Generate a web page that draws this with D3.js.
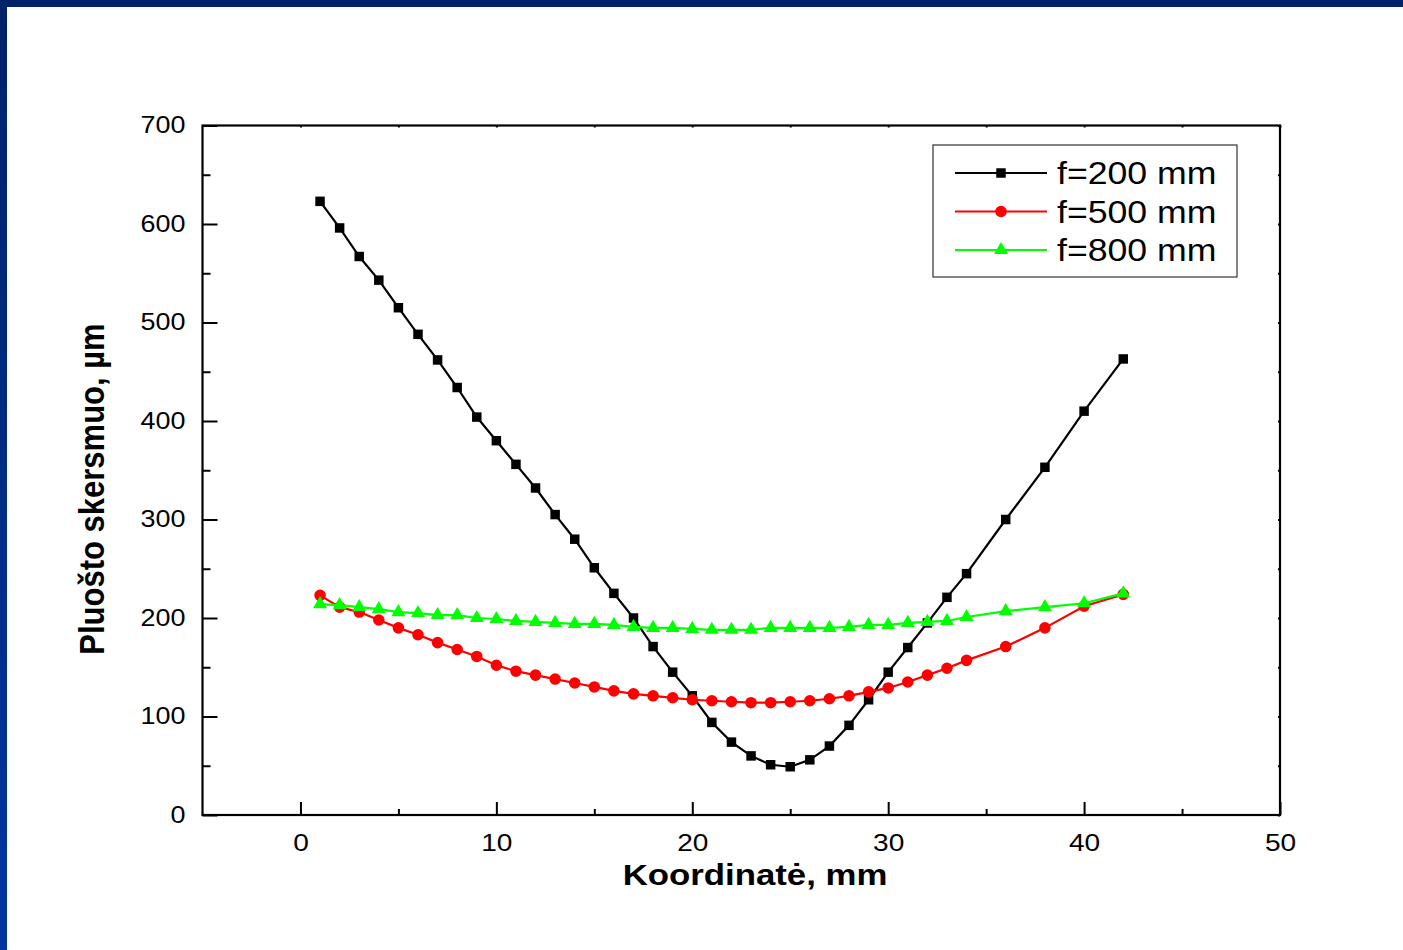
<!DOCTYPE html>
<html>
<head>
<meta charset="utf-8">
<script src="https://cdn.jsdelivr.net/npm/d3@7"></script>
<style>
  html, body { margin: 0; padding: 0; background: #fff; }
  svg { display: block; }
  text { font-family: "Liberation Sans", Arial, sans-serif; fill: #000; }
  /* slightly widened lettering */
  .wide-c { transform-box: fill-box; transform-origin: center; transform: scaleX(1.17); }
  .wide-r { transform-box: fill-box; transform-origin: right center; transform: scaleX(1.17); }
  .wide-l { transform-box: fill-box; transform-origin: left center; transform: scaleX(1.15); }
</style>
</head>
<body>
<svg id="chart" width="1403" height="950"></svg>
<script>
// Beam diameter along the coordinate for three focal lengths
const coords = [1,2,3,4,5,6,7,8,9,10,11,12,13,14,15,16,17,18,19,20,21,22,23,24,25,26,27,28,29,30,31,32,33,34,36,38,40,42];
const f200 = [623,596,567,543,515,488,462,434,404,380,356,332,305,280,251,225,200,171,145,121,94,74,60,51,49,56,70,91,117,145,170,195,221,245,300,353,410,463];
const f500 = [223,211,206,198,190,183,175,168,161,152,146,142,138,134,130,126,123,121,119,117,116,115,114,114,115,116,118,121,125,129,135,142,149,157,171,190,212,224];
const f800 = [214,213,211,209,206,205,203,203,200,199,197,196,195,194,194,193,191,190,190,189,188,188,188,190,190,190,190,191,193,193,195,196,197,201,207,211,215,225];
const seriesNames = ["f=200 mm", "f=500 mm", "f=800 mm"];
const xTickLabels = [0, 10, 20, 30, 40, 50];
const yTickLabels = [0, 100, 200, 300, 400, 500, 600, 700];

const svg = d3.select("#chart");
const W = 1403, H = 950;

// Blue slide frame along the top and left edges
const defs = svg.append("defs");
const grad = defs.append("linearGradient").attr("id", "sideGrad")
  .attr("x1", 0).attr("y1", 0).attr("x2", 0).attr("y2", 1);
grad.append("stop").attr("offset", "0%").attr("stop-color", "#002268");
grad.append("stop").attr("offset", "100%").attr("stop-color", "#0036a0");
svg.append("rect").attr("x", 0).attr("y", 0).attr("width", 7).attr("height", H).attr("fill", "url(#sideGrad)");
svg.append("rect").attr("x", 0).attr("y", 0).attr("width", W).attr("height", 7).attr("fill", "#002268");

const plotLeft = 202.5, plotRight = 1280, plotTop = 125.5, plotBottom = 815;
const x = d3.scaleLinear().domain([-5, 50]).range([plotLeft, plotRight]);
const y = d3.scaleLinear().domain([0, 700]).range([plotBottom, plotTop]);

const axisColor = "#000";

// Axes with inward ticks
function styleAxis(g) {
  g.selectAll(".domain").remove();
  g.selectAll("line").attr("stroke", axisColor).attr("stroke-width", 2);
}

const xMajor = d3.range(0, 51, 10);
const xMinor = d3.range(5, 50, 10);
const yMajor = d3.range(0, 701, 100);
const yMinor = d3.range(50, 700, 100);

// bottom
svg.append("g").attr("transform", `translate(0,${plotBottom})`)
  .call(d3.axisBottom(x).tickValues(xMinor).tickSize(-6).tickFormat(""))
  .call(styleAxis);
const xAx = svg.append("g").attr("transform", `translate(0,${plotBottom})`)
  .call(d3.axisBottom(x).tickValues(xTickLabels).tickSize(-13).tickPadding(19).tickFormat(d3.format("d")))
  .call(styleAxis);
xAx.selectAll("text").attr("font-size", 24).attr("class", "wide-c");

// left
svg.append("g").attr("transform", `translate(${plotLeft},0)`)
  .call(d3.axisLeft(y).tickValues(yMinor).tickSize(-8).tickFormat(""))
  .call(styleAxis);
const yAx = svg.append("g").attr("transform", `translate(${plotLeft},0)`)
  .call(d3.axisLeft(y).tickValues(yTickLabels).tickSize(-15).tickPadding(17).tickFormat(d3.format("d")))
  .call(styleAxis);
yAx.selectAll("text").attr("font-size", 23).attr("class", "wide-r");

// top and right (tiny ticks)
svg.append("g").attr("transform", `translate(0,${plotTop})`)
  .call(d3.axisTop(x).tickValues(xMajor.concat(xMinor)).tickSize(-2).tickFormat(""))
  .call(styleAxis);
svg.append("g").attr("transform", `translate(${plotRight},0)`)
  .call(d3.axisRight(y).tickValues(yMajor.concat(yMinor)).tickSize(-2).tickFormat(""))
  .call(styleAxis);

// frame
svg.append("rect").attr("x", plotLeft).attr("y", plotTop)
  .attr("width", plotRight - plotLeft).attr("height", plotBottom - plotTop)
  .attr("fill", "none").attr("stroke", axisColor).attr("stroke-width", 2.2);

// axis titles
svg.append("text").attr("transform", "translate(755,885) scale(1.16,1)").attr("text-anchor", "middle")
  .attr("font-size", 30).attr("font-weight", "bold").text("Koordinatė, mm");
svg.append("text").attr("transform", "translate(104,489) rotate(-90) scale(1,1.12)")
  .attr("text-anchor", "middle").attr("font-size", 31).attr("font-weight", "bold")
  .text("Pluošto skersmuo, µm");

// series
const series = [
  { name: seriesNames[0], values: f200, color: "#000000", shape: "square" },
  { name: seriesNames[1], values: f500, color: "#ff0000", shape: "circle" },
  { name: seriesNames[2], values: f800, color: "#00ff00", shape: "triangle" }
];

const symbolOf = {
  square: d3.symbol().type(d3.symbolSquare).size(90),
  circle: d3.symbol().type(d3.symbolCircle).size(105),
  triangle: d3.symbol().type(d3.symbolTriangle).size(85)
};

const line = d3.line().x(d => x(d[0])).y(d => y(d[1]));

const plot = svg.append("g");
series.forEach(s => {
  const pts = coords.map((c, i) => [c, s.values[i]]);
  plot.append("path").datum(pts).attr("d", line)
    .attr("fill", "none").attr("stroke", s.color).attr("stroke-width", 2.2);
  plot.selectAll(null).data(pts).enter().append("path")
    .attr("transform", d => `translate(${x(d[0])},${y(d[1])})`)
    .attr("d", symbolOf[s.shape]).attr("fill", s.color);
});

// legend
const lg = svg.append("g").attr("transform", "translate(933,145)");
lg.append("rect").attr("x", 0).attr("y", 0).attr("width", 304).attr("height", 132)
  .attr("fill", "#fff").attr("stroke", "#333").attr("stroke-width", 1.2);
series.forEach((s, i) => {
  const ly = 28 + i * 38.5;
  lg.append("line").attr("x1", 22).attr("x2", 114).attr("y1", ly).attr("y2", ly)
    .attr("stroke", s.color).attr("stroke-width", 2.2);
  lg.append("path").attr("transform", `translate(68,${ly})`).attr("d", symbolOf[s.shape]).attr("fill", s.color);
  lg.append("text").attr("x", 124).attr("y", ly).attr("dy", "0.36em")
    .attr("font-size", 31).attr("class", "wide-l").text(s.name);
});
</script>
</body>
</html>
